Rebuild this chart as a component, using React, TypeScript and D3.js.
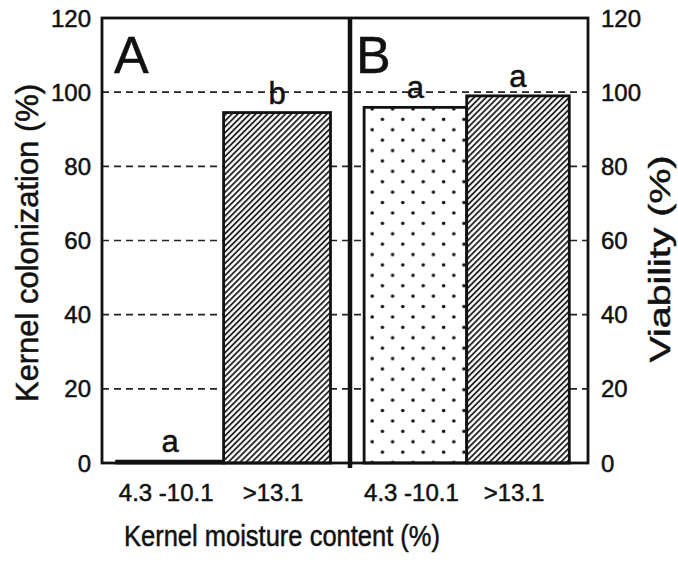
import React from 'react';
import * as d3 from 'd3';

// values
const categories = ['4.3 -10.1', '>13.1'];
const colonization = [0.5, 94.5]; // panel A, %
const colonizationLetters = ['a', 'b'];
const viability = [95.9, 99.0]; // panel B, %
const viabilityLetters = ['a', 'a'];
const yTicks = [0, 20, 40, 60, 80, 100, 120];
const gridTicks = [20, 40, 60, 80, 100];

const FONT = "'Liberation Sans', Arial, Helvetica, sans-serif";
const INK = '#111';

const App = () => {
  const W = 678;
  const H = 564;
  const left = 102;
  const right = 588;
  const mid = 350;
  const top = 18;
  const bottom = 463;

  const y = d3.scaleLinear().domain([0, 120]).range([bottom, top]);

  const xA = d3
    .scaleBand()
    .domain(categories)
    .range([left, mid])
    .paddingInner(0)
    .paddingOuter(0.16)
    .align(0.43);

  const xB = d3
    .scaleBand()
    .domain(categories)
    .range([mid, right])
    .paddingInner(0)
    .paddingOuter(0.16)
    .align(0.43);

  const fillA = ['white', 'url(#hatch)'];
  const fillB = ['url(#dots)', 'url(#hatch)'];

  // scanned-looking text is a bit heavier than plain Liberation Sans
  const txt = { fontFamily: FONT, fill: INK, stroke: INK, strokeWidth: 0.5 };

  const bars = (x, values, fills, key) =>
    values.map((v, i) => (
      <rect
        key={key + i}
        x={x(categories[i])}
        y={y(v)}
        width={x.bandwidth()}
        height={bottom - y(v)}
        fill={fills[i]}
        stroke={INK}
        strokeWidth={2.8}
      />
    ));

  const letters = (x, values, labels, key) =>
    values.map((v, i) => (
      <text
        key={key + i}
        x={x(categories[i]) + x.bandwidth() / 2}
        y={y(v) - 9}
        textAnchor="middle"
        fontSize={31}
        {...txt}
      >
        {labels[i]}
      </text>
    ));

  const catLabels = (x, key) =>
    categories.map((c) => (
      <text
        key={key + c}
        x={x(c) + x.bandwidth() / 2 - 4}
        y={501}
        textAnchor="middle"
        fontSize={24}
        {...txt}
      >
        {c}
      </text>
    ));

  return (
    <svg
      width={W}
      height={H}
      style={{ position: 'absolute', left: 0, top: 0, background: 'white' }}
    >
      <defs>
        <pattern
          id="hatch"
          patternUnits="userSpaceOnUse"
          width={4.2}
          height={4.2}
          patternTransform="rotate(45)"
        >
          <rect width={4.2} height={4.2} fill="white" />
          <line x1={1} y1={0} x2={1} y2={4.2} stroke={INK} strokeWidth={1.7} />
        </pattern>
        <pattern id="dots" patternUnits="userSpaceOnUse" width={20.4} height={20.8}>
          <rect width={20.4} height={20.8} fill="white" />
          <circle cx={5} cy={5} r={1.8} fill={INK} />
          <circle cx={15.2} cy={15.4} r={1.8} fill={INK} />
        </pattern>
      </defs>

      {/* dashed gridlines */}
      {gridTicks.map((t) => (
        <line
          key={'g' + t}
          x1={left}
          x2={right}
          y1={y(t)}
          y2={y(t)}
          stroke="#222"
          strokeWidth={1.6}
          strokeDasharray="7,5"
        />
      ))}

      {bars(xA, colonization, fillA, 'a')}
      {bars(xB, viability, fillB, 'b')}

      {/* frame */}
      <rect
        x={left}
        y={top}
        width={right - left}
        height={bottom - top}
        fill="none"
        stroke={INK}
        strokeWidth={2.8}
      />
      <line x1={mid} x2={mid} y1={top} y2={bottom + 5} stroke={INK} strokeWidth={4.5} />

      {/* panel tags */}
      <text x={114} y={73} fontSize={52} {...txt}>
        A
      </text>
      <text x={356} y={73} fontSize={52} {...txt}>
        B
      </text>

      {letters(xA, colonization, colonizationLetters, 'la')}
      {letters(xB, viability, viabilityLetters, 'lb')}

      {/* y tick labels */}
      {yTicks.map((t) => (
        <text
          key={'yl' + t}
          x={91}
          y={y(t) + 8.5}
          textAnchor="end"
          fontSize={24}
          {...txt}
        >
          {t}
        </text>
      ))}
      {yTicks.map((t) => (
        <text
          key={'yr' + t}
          x={601}
          y={y(t) + 8.5}
          textAnchor="start"
          fontSize={24}
          {...txt}
        >
          {t}
        </text>
      ))}

      {catLabels(xA, 'ca')}
      {catLabels(xB, 'cb')}

      {/* axis titles */}
      <text
        transform="translate(38,243) rotate(-90)"
        textAnchor="middle"
        fontSize={31}
        textLength={318}
        lengthAdjust="spacingAndGlyphs"
        {...txt}
      >
        Kernel colonization (%)
      </text>
      <text
        transform="translate(670,259) rotate(-90)"
        textAnchor="middle"
        fontSize={30}
        textLength={207}
        lengthAdjust="spacingAndGlyphs"
        {...txt}
      >
        Viability (%)
      </text>
      <text
        x={282}
        y={546}
        textAnchor="middle"
        fontSize={30}
        textLength={316}
        lengthAdjust="spacingAndGlyphs"
        {...txt}
      >
        Kernel moisture content (%)
      </text>
    </svg>
  );
};

export default App;
